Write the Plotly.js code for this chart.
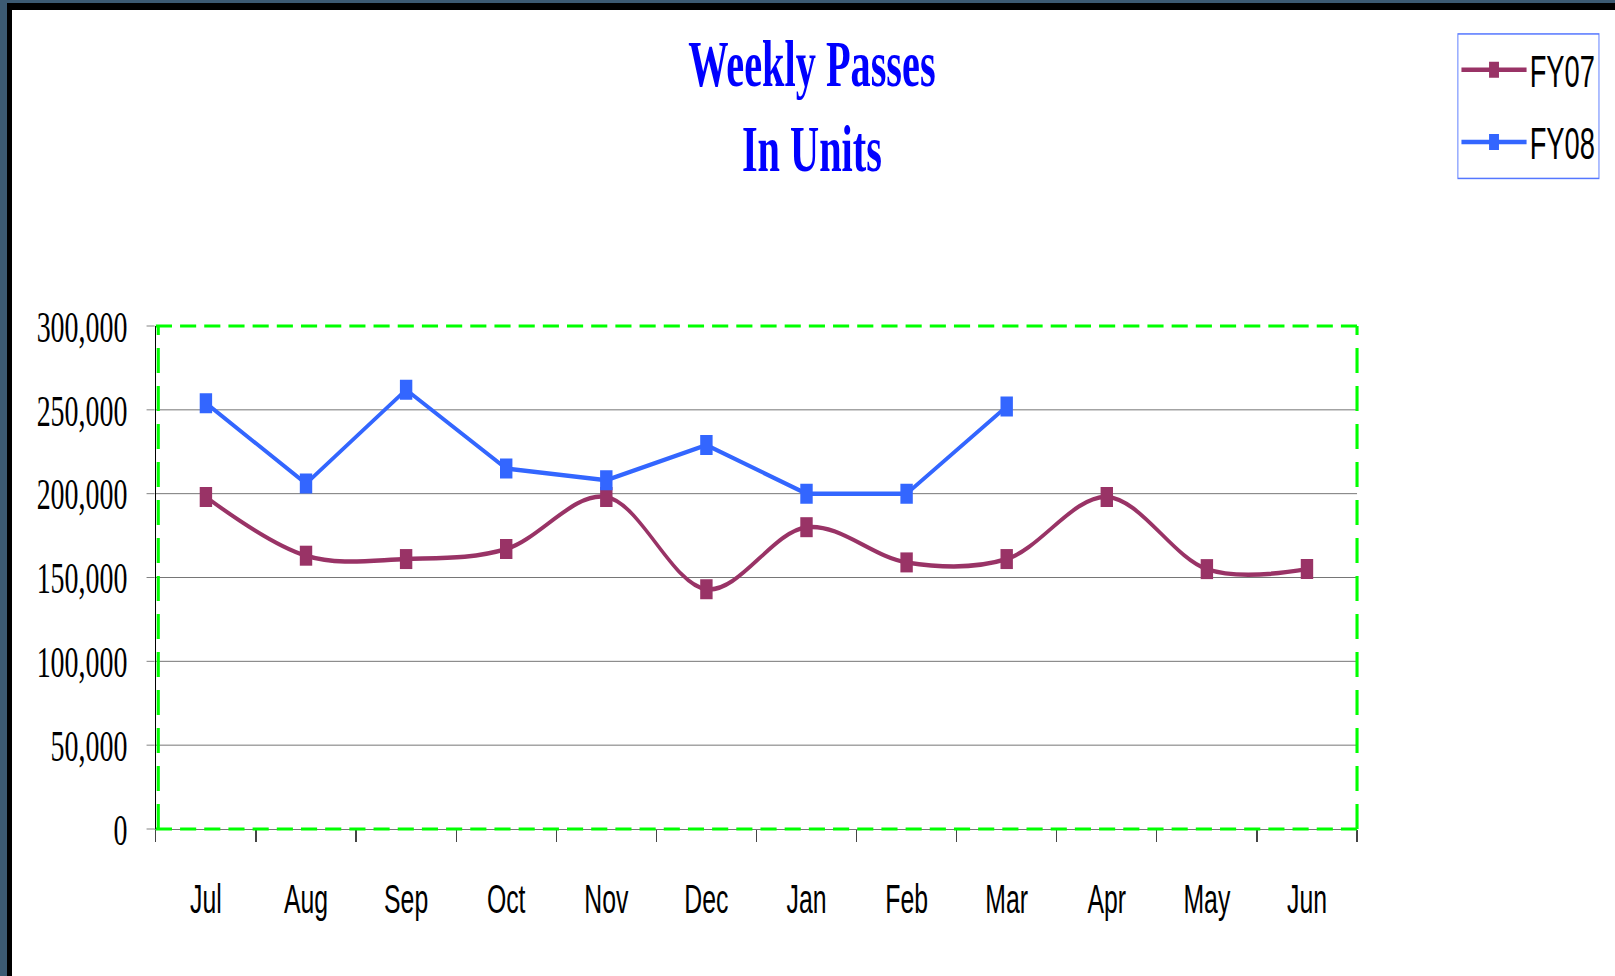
<!DOCTYPE html>
<html><head><meta charset="utf-8">
<script src="https://cdn.plot.ly/plotly-3.0.1.min.js"></script>
<style>
html,body{margin:0;padding:0;width:1615px;height:976px;overflow:hidden;background:#3c5a72;}
#frame{position:absolute;left:7px;top:3px;width:1608px;height:973px;background:#000;}
#card{position:absolute;left:12px;top:10px;width:1603px;height:966px;background:#fff;overflow:hidden;}
#chart{position:absolute;left:0;top:0;width:2585px;height:966px;transform-origin:0 0;}
</style></head><body>
<div id="frame"></div>
<div id="card"><div id="chart"></div></div>
<script>
const months = ['Jul','Aug','Sep','Oct','Nov','Dec','Jan','Feb','Mar','Apr','May','Jun'];
const fy07 = [198000,163000,161000,167000,198000,143000,180000,159000,161000,198000,155000,155000];
const fy08 = [254000,206000,262000,215000,208000,229000,200000,200000,252000,null,null,null];
const seriesNames = ['FY07','FY08'];
const yTicks = [0,50000,100000,150000,200000,250000,300000];

const W = 2585, H = 966, S = 1603 / W;
document.getElementById('chart').style.transform = 'scaleX(' + S + ')';

const traces = [
  {x: months, y: fy07, name: seriesNames[0], type: 'scatter', mode: 'lines+markers',
   legendgroup: 'a', line: {color: '#993366', width: 4.5, shape: 'spline', smoothing: 1},
   marker: {symbol: 'square', size: 20, color: '#993366'}},
  {x: months, y: fy08, name: seriesNames[1], type: 'scatter', mode: 'lines+markers',
   legendgroup: 'b', line: {color: '#3366ff', width: 4.5},
   marker: {symbol: 'square', size: 20, color: '#3366ff'}}
];

const green = '#00ff00';
const layout = {
  width: W, height: H,
  margin: {l: 232, r: 416, t: 316, b: 147, pad: 0},
  paper_bgcolor: '#ffffff', plot_bgcolor: '#ffffff',
  showlegend: true,
  title: {text: '<b>Weekly Passes</b><br><b>In Units</b>', xref: 'container', x: 0.499, xanchor: 'center',
          yref: 'container', y: 0.921, yanchor: 'top',
          font: {family: 'Liberation Serif, Times New Roman, serif', size: 65, color: '#0000ff'}},
  xaxis: {type: 'category', range: [-0.5, 11.5], showgrid: false, zeroline: false,
          showline: true, linecolor: '#555', linewidth: 1,
          ticks: 'outside', tickson: 'boundaries', ticklen: 12, tickwidth: 2, tickcolor: '#444',
          ticklabelstandoff: 35,
          tickfont: {family: 'Liberation Sans, Arial, sans-serif', size: 40, color: '#000'}},
  yaxis: {range: [0, 300000], tickvals: yTicks, tickformat: ',d', showgrid: true, gridcolor: '#555', gridwidth: 1,
          zeroline: false, showline: true, linecolor: '#000', linewidth: 2,
          ticks: 'outside', ticklen: 13, tickwidth: 1, tickcolor: '#666',
          ticklabelstandoff: 22,
          tickfont: {family: 'Liberation Serif, Times New Roman, serif', size: 45, color: '#000'}},
  legend: {xref: 'container', x: 0.9017, xanchor: 'left', yref: 'container', y: 0.976, yanchor: 'top',
           bordercolor: '#5577ff', borderwidth: 1.5, bgcolor: '#ffffff',
           traceorder: 'grouped', tracegroupgap: 12, itemwidth: 105,
           font: {family: 'Liberation Sans, Arial, sans-serif', size: 44, color: '#000'}},
  shapes: [
    {type: 'line', xref: 'paper', yref: 'paper', x0: 0, x1: 1, y0: 1, y1: 1, layer: 'above',
     line: {color: green, width: 3, dash: '26px,13px'}},
    {type: 'line', xref: 'paper', yref: 'paper', x0: 0, x1: 1, y0: 0, y1: 0, layer: 'above',
     line: {color: green, width: 3, dash: '26px,13px'}},
    {type: 'line', xref: 'paper', yref: 'paper', x0: 0.002, x1: 0.002, y0: 0, y1: 1, layer: 'above',
     line: {color: green, width: 5, dash: '25px,13px'}},
    {type: 'line', xref: 'paper', yref: 'paper', x0: 1, x1: 1, y0: 0, y1: 1, layer: 'above',
     line: {color: green, width: 5, dash: '25px,13px'}}
  ]
};

Plotly.newPlot('chart', traces, layout, {staticPlot: true, displayModeBar: false});
</script>
</body></html>
